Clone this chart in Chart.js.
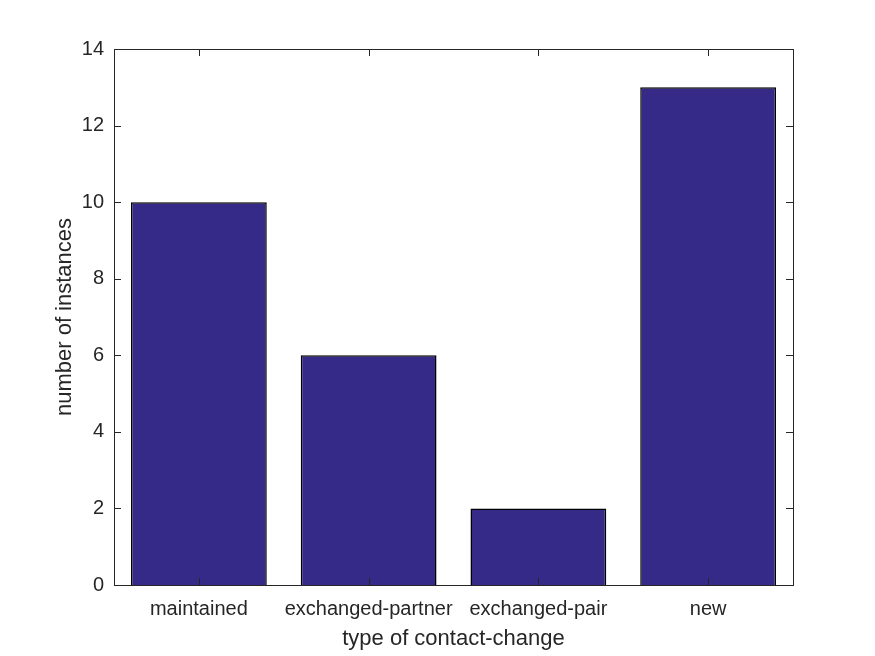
<!DOCTYPE html>
<html>
<head>
<meta charset="utf-8">
<script src="https://cdn.jsdelivr.net/npm/chart.js@4"></script>
<style>
  body { margin: 0; background: #fff; }
  canvas { display: block; }
</style>
</head>
<body>
<canvas id="chart" width="875" height="656"></canvas>
<script>
const categories = ['maintained', 'exchanged-partner', 'exchanged-pair', 'new'];
const instances = [10, 6, 2, 13];
const yTicks = [0, 2, 4, 6, 8, 10, 12, 14];

const textColor = '#262626';
const fontFamily = '"Liberation Sans", Arial, Helvetica, sans-serif';

// matlab-style box with ticks pointing inward on all four sides
const boxPlugin = {
  id: 'box',
  afterDraw(chart) {
    const { ctx, chartArea: a, scales } = chart;
    ctx.save();
    ctx.strokeStyle = '#262626';
    ctx.lineWidth = 1;
    ctx.beginPath();
    yTicks.forEach(v => {
      const y = Math.round(scales.y.getPixelForValue(v)) + 0.5;
      ctx.moveTo(a.left, y); ctx.lineTo(a.left + 7, y);
      ctx.moveTo(a.right, y); ctx.lineTo(a.right - 7, y);
    });
    categories.forEach((c, i) => {
      const x = Math.round(scales.x.getPixelForValue(i)) + 0.5;
      ctx.moveTo(x, a.bottom); ctx.lineTo(x, a.bottom - 7);
      ctx.moveTo(x, a.top); ctx.lineTo(x, a.top + 7);
    });
    ctx.stroke();
    ctx.strokeRect(Math.round(a.left) + 0.5, Math.round(a.top) + 0.5,
      Math.round(a.right - a.left), Math.round(a.bottom - a.top));
    ctx.restore();
  }
};

new Chart(document.getElementById('chart'), {
  type: 'bar',
  data: {
    labels: categories,
    datasets: [{
      data: instances,
      backgroundColor: '#352a87',
      borderColor: '#000000',
      borderWidth: 1.5,
      categoryPercentage: 0.8,
      barPercentage: 1
    }]
  },
  options: {
    responsive: false,
    animation: false,
    layout: { padding: { top: 49, right: 82, left: 52, bottom: 0 } },
    plugins: { legend: { display: false }, tooltip: { enabled: false } },
    scales: {
      x: {
        grid: { display: false, drawTicks: false },
        border: { display: false },
        ticks: { color: textColor, font: { family: fontFamily, size: 20 }, padding: 12, maxRotation: 0, autoSkip: false },
        title: { display: true, text: 'type of contact-change', color: textColor, font: { family: fontFamily, size: 22 }, padding: { top: 2 } },
        afterFit(scale) { scale.height = 71; }
      },
      y: {
        min: 0,
        max: 14,
        grid: { display: false, drawTicks: false },
        border: { display: false },
        afterBuildTicks(scale) { scale.ticks = yTicks.map(v => ({ value: v })); },
        ticks: { color: textColor, font: { family: fontFamily, size: 20 }, padding: 10 },
        title: { display: true, text: 'number of instances', color: textColor, font: { family: fontFamily, size: 22 }, padding: 0 },
        afterFit(scale) { scale.width = 62; }
      }
    }
  },
  plugins: [boxPlugin]
});
</script>
</body>
</html>
